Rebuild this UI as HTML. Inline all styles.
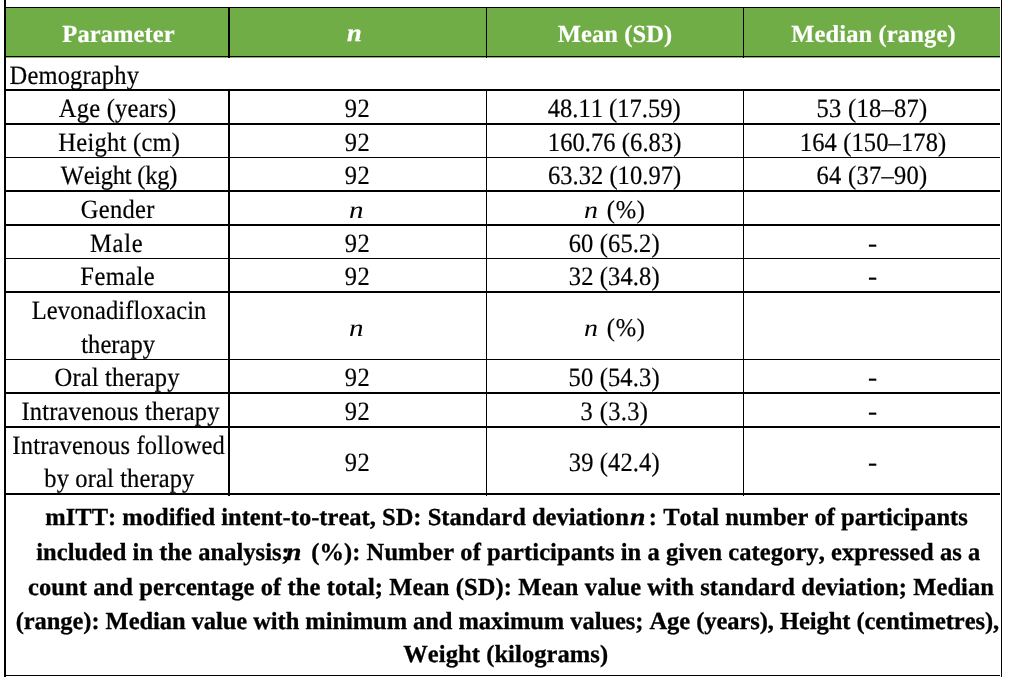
<!DOCTYPE html>
<html lang="en">
<head>
<meta charset="utf-8">
<title>Table</title>
<style>
html,body{margin:0;padding:0;background:#fff;}
body{width:1012px;height:688px;position:relative;overflow:hidden;font-family:"Liberation Serif","Times New Roman",serif;font-size:24.5px;line-height:30px;color:#000;font-variant-ligatures:none;font-kerning:none;text-rendering:geometricPrecision;}
.l{position:absolute;background:#000;}
.t{position:absolute;white-space:pre;-webkit-text-stroke:0.2px currentColor;height:30px;transform-origin:0 23.27px;}
.h{color:#fff;font-weight:bold;}
.b{font-weight:bold;-webkit-text-stroke:0.3px currentColor;}
.i{font-style:italic;-webkit-text-stroke:0;}
.b.i,.h.i{-webkit-text-stroke:0.3px currentColor;}
.g{position:absolute;background:#70ad47;}
</style>
</head>
<body>
<div class="g" style="left:6px;top:8px;width:994px;height:48px"></div>
<div class="g" style="left:6px;top:57px;width:994px;height:1px;background:#80bf58"></div>
<div class="l" style="left:4px;top:7px;width:996px;height:1px"></div>
<div class="l" style="left:4px;top:56px;width:996px;height:1px"></div>
<div class="l" style="left:4px;top:89px;width:996px;height:2px"></div>
<div class="l" style="left:4px;top:123px;width:996px;height:2px"></div>
<div class="l" style="left:4px;top:157px;width:996px;height:1px"></div>
<div class="l" style="left:4px;top:190px;width:996px;height:2px"></div>
<div class="l" style="left:4px;top:224px;width:996px;height:2px"></div>
<div class="l" style="left:4px;top:258px;width:996px;height:1px"></div>
<div class="l" style="left:4px;top:291px;width:996px;height:2px"></div>
<div class="l" style="left:4px;top:359px;width:996px;height:1px"></div>
<div class="l" style="left:4px;top:392px;width:996px;height:2px"></div>
<div class="l" style="left:4px;top:426px;width:996px;height:2px"></div>
<div class="l" style="left:4px;top:493px;width:996px;height:2px"></div>
<div class="l" style="left:4px;top:675px;width:996px;height:1px"></div>
<div class="l" style="left:4px;top:0;width:2px;height:677px"></div>
<div class="l" style="left:1001px;top:0;width:1px;height:677px"></div>
<div class="l" style="left:228px;top:7px;width:2px;height:51px"></div>
<div class="l" style="left:228px;top:89px;width:2px;height:407px"></div>
<div class="l" style="left:486px;top:7px;width:1px;height:51px"></div>
<div class="l" style="left:486px;top:89px;width:1px;height:407px"></div>
<div class="l" style="left:743px;top:7px;width:1px;height:51px"></div>
<div class="l" style="left:743px;top:89px;width:1px;height:407px"></div>
<div id="h1" class="t h" style="left:62.36px;top:19.73px;letter-spacing:0.077px">Parameter</div>
<div id="h2" class="t h i" style="left:347.32px;top:19.23px;transform:scale(1.077,1.000)">n</div>
<div id="h3" class="t h" style="left:557.69px;top:19.73px;letter-spacing:0.109px">Mean (SD)</div>
<div id="h4" class="t h" style="left:791.22px;top:19.73px;letter-spacing:0.132px">Median (range)</div>
<div id="dem" class="t" style="left:9.61px;top:61.63px;letter-spacing:0.153px;transform:scale(1.000,1.080)">Demography</div>
<div id="a1" class="t" style="left:58.77px;top:94.73px;letter-spacing:0.242px;transform:scale(1.000,1.080)">Age (years)</div>
<div id="a2" class="t" style="left:58.37px;top:128.63px;letter-spacing:0.260px;transform:scale(1.000,1.080)">Height (cm)</div>
<div id="a3" class="t" style="left:60.76px;top:161.63px;letter-spacing:-0.248px;transform:scale(1.000,1.080)">Weight (kg)</div>
<div id="a4" class="t" style="left:80.71px;top:195.73px;letter-spacing:0.324px;transform:scale(1.000,1.080)">Gender</div>
<div id="a5" class="t" style="left:90.07px;top:229.73px;letter-spacing:0.707px;transform:scale(1.000,1.080)">Male</div>
<div id="a6" class="t" style="left:80.33px;top:262.93px;letter-spacing:0.448px;transform:scale(1.000,1.080)">Female</div>
<div id="a7" class="t" style="left:31.70px;top:296.63px;letter-spacing:0.124px;transform:scale(1.000,1.080)">Levonadifloxacin</div>
<div id="a8" class="t" style="left:81.24px;top:330.63px;letter-spacing:0.060px;transform:scale(1.000,1.080)">therapy</div>
<div id="a9" class="t" style="left:54.56px;top:363.63px;letter-spacing:0.163px;transform:scale(1.000,1.080)">Oral therapy</div>
<div id="a10" class="t" style="left:21.50px;top:397.73px;letter-spacing:0.148px;transform:scale(1.000,1.080)">Intravenous therapy</div>
<div id="a11" class="t" style="left:12.35px;top:431.73px;letter-spacing:0.191px;transform:scale(1.000,1.080)">Intravenous followed</div>
<div id="a12" class="t" style="left:44.29px;top:464.73px;letter-spacing:0.127px;transform:scale(1.000,1.080)">by oral therapy</div>
<div id="b_age" class="t" style="left:344.64px;top:94.73px;letter-spacing:0.639px;transform:scale(1.000,1.080)">92</div>
<div id="b_hei" class="t" style="left:344.64px;top:128.63px;letter-spacing:0.639px;transform:scale(1.000,1.080)">92</div>
<div id="b_wei" class="t" style="left:344.64px;top:161.63px;letter-spacing:0.639px;transform:scale(1.000,1.080)">92</div>
<div id="b_mal" class="t" style="left:344.64px;top:229.73px;letter-spacing:0.639px;transform:scale(1.000,1.080)">92</div>
<div id="b_fem" class="t" style="left:344.64px;top:262.93px;letter-spacing:0.639px;transform:scale(1.000,1.080)">92</div>
<div id="b_ora" class="t" style="left:344.64px;top:363.63px;letter-spacing:0.639px;transform:scale(1.000,1.080)">92</div>
<div id="b_iv" class="t" style="left:344.64px;top:397.73px;letter-spacing:0.639px;transform:scale(1.000,1.080)">92</div>
<div id="b_ivfm" class="t" style="left:344.64px;top:449.03px;letter-spacing:0.639px;transform:scale(1.000,1.080)">92</div>
<div id="bn1" class="t i" style="left:348.65px;top:195.73px;transform:scale(1.186,1.000)">n</div>
<div id="bn2" class="t i" style="left:348.65px;top:313.93px;transform:scale(1.186,1.000)">n</div>
<div id="c1" class="t" style="left:547.74px;top:94.73px;letter-spacing:0.021px;transform:scale(1.000,1.080)">48.11 (17.59)</div>
<div id="c2" class="t" style="left:547.83px;top:128.63px;letter-spacing:0.076px;transform:scale(1.000,1.080)">160.76 (6.83)</div>
<div id="c3" class="t" style="left:547.92px;top:161.63px;letter-spacing:0.044px;transform:scale(1.000,1.080)">63.32 (10.97)</div>
<div id="cn1" class="t i" style="left:584.35px;top:195.73px;transform:scale(1.142,1.000)">n</div>
<div id="cp1" class="t" style="left:606.78px;top:195.73px;letter-spacing:0.735px;transform:scale(1.000,1.040)">(%)</div>
<div id="c5" class="t" style="left:568.65px;top:229.73px;letter-spacing:0.148px;transform:scale(1.000,1.080)">60 (65.2)</div>
<div id="c6" class="t" style="left:568.80px;top:262.93px;letter-spacing:0.124px;transform:scale(1.000,1.080)">32 (34.8)</div>
<div id="cn2" class="t i" style="left:584.35px;top:313.93px;transform:scale(1.142,1.000)">n</div>
<div id="cp2" class="t" style="left:606.78px;top:313.93px;letter-spacing:0.735px;transform:scale(1.000,1.040)">(%)</div>
<div id="c9" class="t" style="left:568.56px;top:363.63px;letter-spacing:0.155px;transform:scale(1.000,1.080)">50 (54.3)</div>
<div id="c10" class="t" style="left:580.61px;top:397.73px;letter-spacing:0.342px;transform:scale(1.000,1.080)">3 (3.3)</div>
<div id="c11" class="t" style="left:568.80px;top:449.03px;letter-spacing:0.124px;transform:scale(1.000,1.080)">39 (42.4)</div>
<div id="d1" class="t" style="left:816.56px;top:94.73px;letter-spacing:0.279px;transform:scale(1.000,1.080)">53 (18–87)</div>
<div id="d2" class="t" style="left:799.81px;top:128.63px;letter-spacing:0.121px;transform:scale(1.000,1.080)">164 (150–178)</div>
<div id="d3" class="t" style="left:816.60px;top:161.63px;letter-spacing:0.273px;transform:scale(1.000,1.080)">64 (37–90)</div>
<div id="d_mal" class="t" style="left:867.74px;top:229.73px;transform:scale(1.118,1.080)">-</div>
<div id="d_fem" class="t" style="left:867.74px;top:262.93px;transform:scale(1.118,1.080)">-</div>
<div id="d_ora" class="t" style="left:867.74px;top:363.63px;transform:scale(1.118,1.080)">-</div>
<div id="d_iv" class="t" style="left:867.74px;top:397.73px;transform:scale(1.118,1.080)">-</div>
<div id="d_ivfm" class="t" style="left:867.74px;top:449.03px;transform:scale(1.118,1.080)">-</div>
<div id="f1a" class="t b" style="left:45.37px;top:502.73px;letter-spacing:0.016px">mITT: modified intent-to-treat, SD: Standard deviation</div>
<div id="f1n" class="t b i" style="left:630.33px;top:502.73px;transform:scale(1.135,1.000)">n</div>
<div id="f1b" class="t b" style="left:648.86px;top:502.73px;letter-spacing:0.014px">: Total number of participants</div>
<div id="f2a" class="t b" style="left:36.27px;top:537.73px;letter-spacing:0.037px">included in the analysis;</div>
<div id="f2n" class="t b i" style="left:286.01px;top:537.73px;transform:scale(1.134,1.000)">n</div>
<div id="f2b" class="t b" style="left:311.18px;top:537.73px;letter-spacing:0.070px">(%): Number of participants in a given category, expressed as a</div>
<div id="f3" class="t b" style="left:27.98px;top:572.73px;letter-spacing:0.098px">count and percentage of the total; Mean (SD): Mean value with standard deviation; Median</div>
<div id="f4" class="t b" style="left:15.68px;top:606.93px;letter-spacing:-0.059px">(range): Median value with minimum and maximum values; Age (years), Height (centimetres),</div>
<div id="f5" class="t b" style="left:403.26px;top:639.73px;letter-spacing:0.081px">Weight (kilograms)</div>
</body>
</html>
